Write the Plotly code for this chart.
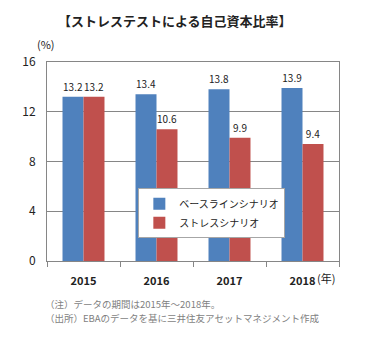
import plotly.graph_objects as go

years = ["2015", "2016", "2017", "2018"]
baseline = [13.2, 13.4, 13.8, 13.9]
stress = [13.2, 10.6, 9.9, 9.4]
series_names = ["ベースラインシナリオ", "ストレスシナリオ"]
colors = ["#4F81BD", "#C0504D"]
yticks = [0, 4, 8, 12, 16]

title = "【ストレステストによる自己資本比率】"
notes = ["（注）データの期間は2015年～2018年。",
         "（出所）EBAのデータを基に三井住友アセットマネジメント作成"]

FONT = "Noto Sans CJK JP"
W, H = 366, 339
L, R, T, B = 46.5, 339, 61.5, 261

fig = go.Figure()
for name, vals, c in zip(series_names, [baseline, stress], colors):
    fig.add_trace(go.Bar(
        x=years, y=vals, name=name, marker_color=c, marker_line_width=0,
        text=[f"{v:.1f}" for v in vals], textposition="outside",
        textfont=dict(size=10, color="#222", family=FONT),
        cliponaxis=False,
    ))

fig.update_layout(
    width=W, height=H, paper_bgcolor="white", plot_bgcolor="white",
    margin=dict(l=L, r=W - R, t=T, b=H - B, pad=0),
    barmode="group", bargap=0.425, bargroupgap=0,
    font=dict(family=FONT, size=11, color="#222"),
    showlegend=True,
    legend=dict(x=(138 - L) / (R - L), y=(B - 188) / (B - T),
                xanchor="left", yanchor="top",
                bgcolor="white", bordercolor="#A6A6A6", borderwidth=1,
                font=dict(size=10, family=FONT, color="#222"),
                itemwidth=30, tracegroupgap=2),
    xaxis=dict(showline=True, linecolor="#868686", linewidth=1, mirror=True,
               ticks="outside", tickson="boundaries", ticklen=5, tickcolor="#868686",
               tickfont=dict(size=11, family=FONT, color="#222", weight=600),
               ticklabelstandoff=10),
    yaxis=dict(range=[0, 16], tickvals=yticks, showgrid=True, gridcolor="#868686",
               showline=True, linecolor="#868686", linewidth=1, mirror=True,
               ticks="", tickfont=dict(size=12, family=FONT, color="#222"),
               ticklabelstandoff=8, zeroline=False),
    annotations=[
        dict(text=f"<b>{title}</b>", x=175, y=20, xanchor="center", showarrow=False,
             font=dict(size=13, family=FONT, color="#222")),
        dict(text="(%)", x=45, y=43, xanchor="center", showarrow=False, font=dict(size=11)),
        dict(text="(年)", x=326, y=278, xanchor="center", showarrow=False, font=dict(size=11)),
        dict(text=notes[0], x=43, y=304, xanchor="left", align="left", borderpad=0,
             showarrow=False, font=dict(size=9.5, color="#7F7F7F")),
        dict(text=notes[1], x=43, y=318, xanchor="left", align="left", borderpad=0,
             showarrow=False, font=dict(size=9.5, color="#7F7F7F")),
    ],
)

# convert pixel annotation positions to paper coords
for a in fig.layout.annotations:
    px, py = a.x, a.y
    a.xref = "paper"; a.yref = "paper"
    a.x = (px - L) / (R - L)
    a.y = (B - py) / (B - T)
    a.yanchor = "middle"

fig.write_html("out.html")
